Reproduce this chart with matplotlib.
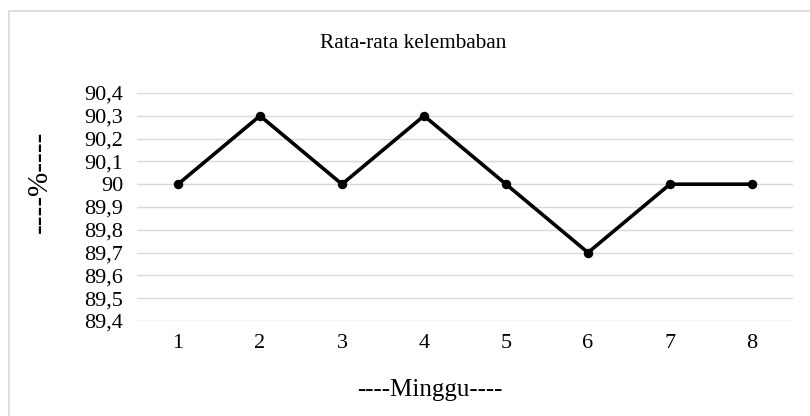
import matplotlib
matplotlib.use("Agg")
import matplotlib.pyplot as plt
from matplotlib.patches import Rectangle
from matplotlib.ticker import FuncFormatter

# weekly average humidity
minggu = [1, 2, 3, 4, 5, 6, 7, 8]
kelembaban = [90.0, 90.3, 90.0, 90.3, 90.0, 89.7, 90.0, 90.0]
y_ticks = [89.4, 89.5, 89.6, 89.7, 89.8, 89.9, 90.0, 90.1, 90.2, 90.3, 90.4]

plt.rcParams["font.family"] = ["Liberation Serif", "DejaVu Serif"]

fig = plt.figure(figsize=(8.1, 4.16), dpi=100)
ax = fig.add_axes([137 / 810, 1 - 321 / 416, (793 - 137) / 810, (321 - 93) / 416])

# light frame round the chart area
fig.patches.append(Rectangle((9 / 810, -0.1), 1.0, 1 - 11 / 416 + 0.1,
                             transform=fig.transFigure, fill=False,
                             edgecolor="#d9d9d9", linewidth=1.2))

x = list(range(len(minggu)))
ax.plot(x, kelembaban, color="black", linewidth=2.6, marker="o",
        markersize=5.8, zorder=3)

ax.set_xlim(-0.5, len(minggu) - 0.5)
ax.set_ylim(y_ticks[0], y_ticks[-1])
ax.set_xticks(x)
ax.set_xticklabels([str(m) for m in minggu])
ax.set_yticks(y_ticks)


def koma(v, pos):
    s = f"{v:.1f}"
    if s.endswith(".0"):
        s = s[:-2]
    return s.replace(".", ",")


ax.yaxis.set_major_formatter(FuncFormatter(koma))
ax.grid(axis="y", color="#d9d9d9", linewidth=1)
ax.set_axisbelow(True)
for sp in ax.spines.values():
    sp.set_visible(False)
ax.tick_params(length=0, labelsize=16, colors="black", pad=10)
ax.tick_params(axis="x", pad=9)

fig.text(413 / 810, 1 - 43 / 416, "Rata-rata kelembaban", ha="center", va="center", fontsize=15.3)
fig.text(430 / 810, 1 - 390 / 416, "----Minggu----", ha="center", va="center", fontsize=18)
fig.text(40 / 810, 1 - 182 / 416, "----%----", ha="center", va="center",
         rotation=90, fontsize=21)

fig.savefig("out.png", dpi=100)
